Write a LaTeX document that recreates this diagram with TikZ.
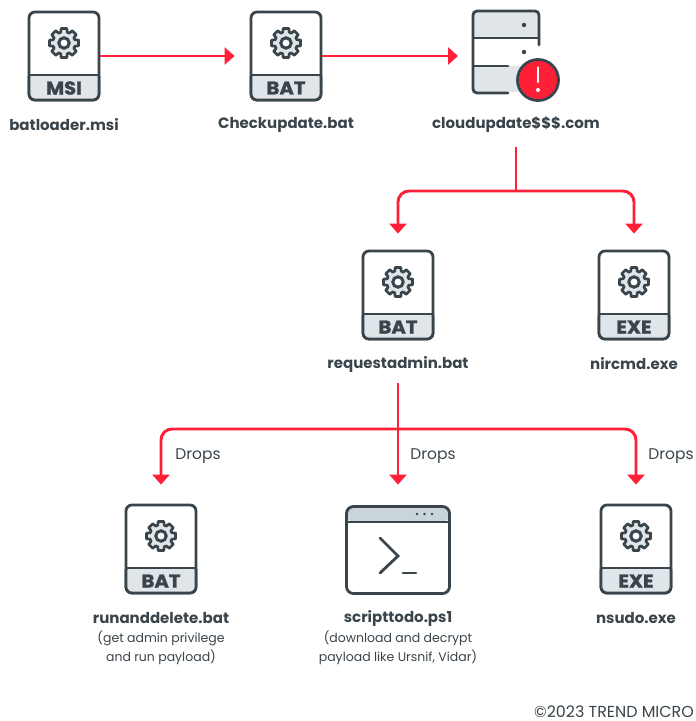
\documentclass[tikz,border=0pt]{standalone}
\usepackage{fontspec}
\setmainfont{Poppins}
\newfontfamily\bandfont[FakeBold=1.4,FakeStretch=1.06]{Poppins Bold}
\usepackage{xcolor}
\usetikzlibrary{arrows.meta}

\definecolor{inkgray}{HTML}{3A444B}
\definecolor{bandgray}{HTML}{DFE5E8}
\definecolor{headgray}{HTML}{C9D5DB}
\definecolor{flowred}{HTML}{FF2038}

\tikzset{
    flow/.style={draw=flowred, line width=2.9pt, rounded corners=11pt, -{Triangle[length=10pt,width=17pt]}},
    flowline/.style={draw=flowred, line width=2.9pt},
    outline/.style={draw=inkgray, line width=2.8pt},
    fileicon/.style={outline, rounded corners=6pt, minimum width=70pt, minimum height=88pt, inner sep=0pt},
    filename/.style={text=inkgray, font=\fontsize{15}{17}\selectfont\bfseries},
    notetext/.style={text=inkgray, font=\fontsize{12.5}{19}\selectfont, align=center},
    droptext/.style={text=inkgray, font=\fontsize{15.5}{18}\selectfont},
    bandtext/.style={text=inkgray, font=\fontsize{18.5}{18}\bandfont},
}

% gear at the given centre
\newcommand{\gearicon}[2]{
    \begin{scope}[shift={(#1,#2)}]
        \fill[outline, fill=bandgray, line width=2.7pt, line join=round] (-11:15)
            \foreach \a in {0,45,...,315} {
                -- ({\a-11}:14.8) -- ({\a+11}:14.8) -- ({\a+17}:11.2) -- ({\a+28}:11.2)
            } -- cycle;
        \fill[outline, fill=white, line width=3pt] (0,0) circle (5.2);
    \end{scope}
}

% file icon: name, centre x, centre y, band text
\newcommand{\fileicon}[4]{
    \node[fileicon] (#1) at (#2,#3) {};
    \begin{scope}[shift={(#2,#3)}]
        \fill[bandgray, rounded corners=5pt] (-34.5,19) -- (34.5,19) -- (34.5,43.5) -- (-34.5,43.5) -- cycle;
        \draw[outline] (-35,19) -- (35,19);
        \draw[outline, rounded corners=6pt] (-35,20) -- (-35,44) -- (35,44) -- (35,20);
        \node[bandtext] (#1band) at (0,32) {#4};
    \end{scope}
    \gearicon{#2}{#3-13}
}

\begin{document}
\begin{tikzpicture}[x=1pt, y=-1pt]
    \useasboundingbox (0,0) rectangle (696,721);

    % Top row
    \fileicon{msi}{64}{56}{MSI}
    \node[filename] (msilabel) at (64,125) {batloader.msi};
    \fileicon{checkup}{286}{56}{BAT}
    \node[filename] (checkuplabel) at (286,125) {Checkupdate.bat};

    % Server with alert
    \fill[bandgray] (474,12) rectangle (538,38);
    \fill[bandgray] (474,66) rectangle (525,92);
    \draw[outline, line cap=round, rounded corners=4pt] (539,45) -- (539,11) -- (473,11) -- (473,93) -- (508,93);
    \draw[outline, line cap=round] (473,38) -- (539,38);
    \draw[outline, line cap=round] (473,66) -- (508,66);
    \fill[inkgray] (524,25) circle (2.2) (524,52) circle (2.2);
    \node[outline, circle, fill=flowred, minimum size=41pt, inner sep=0pt] (cloud) at (538,80) {};
    \draw[white, line width=2.4pt, line cap=round] (538,67.5) -- (538,82);
    \fill[white] (538,90) circle (2);
    \coordinate (cloudin) at (473,56);
    \node[filename] (cloudlabel) at (516,125) {cloudupdate\$\$\$.com};

    % Second row
    \fileicon{request}{398}{295}{BAT}
    \node[filename] (requestlabel) at (398,364) {requestadmin.bat};
    \fileicon{nircmd}{634}{295}{EXE}
    \node[filename] (nircmdlabel) at (634,364) {nircmd.exe};

    % Third row
    \fileicon{rundelete}{161}{549}{BAT}
    \node[filename] (rundeletelabel) at (161,618) {runanddelete.bat};
    \node[notetext] (rundeletenote) at (161,648) {(get admin privilege\\and run payload)};

    \fill[headgray, rounded corners=6pt] (347,507) rectangle (449,522);
    \node[outline, rounded corners=7pt, minimum width=103pt, minimum height=87pt, inner sep=0pt] (script) at (398,550) {};
    \draw[outline] (346,522) -- (450,522);
    \fill[inkgray] (417,514) circle (1.4) (424.5,514) circle (1.4) (432,514) circle (1.4);
    \draw[outline, line cap=round, line join=miter] (380,538) -- (398,556) -- (380,573);
    \draw[outline, line cap=round] (403,573) -- (416,573);
    \node[filename] (scriptlabel) at (398,618) {scripttodo.ps1};
    \node[notetext] (scriptnote) at (398,648) {(download and decrypt\\payload like Ursnif, Vidar)};

    \fileicon{nsudo}{636}{549}{EXE}
    \node[filename] (nsudolabel) at (636,618) {nsudo.exe};

    % Junction points
    \coordinate (cloudout) at (516,147);
    \coordinate (cloudsplit) at (516,191);
    \coordinate (requestout) at (398,383);
    \coordinate (requestsplit) at (398,429);

    % Arrows
    \draw[flow, shorten >=15pt] (msi) -- (checkup);
    \draw[flow, shorten >=15pt] (checkup) -- (cloudin);
    \draw[flowline] (cloudout) -- (cloudsplit);
    \draw[flow, shorten >=16pt] (cloudsplit) -| (request.north);
    \draw[flow, shorten >=16pt] (cloudsplit) -| (nircmd.north);
    \draw[flow, shorten >=19pt] (requestout) -- (rundelete.north -| requestout);
    \draw[flow, shorten >=19pt] (requestsplit) -| (rundelete.north);
    \draw[flow, shorten >=19pt] (requestsplit) -| (nsudo.north);

    % Drop labels
    \node[droptext] (dropsleft) at (198,456) {Drops};
    \node[droptext] (dropsmid) at (433,456) {Drops};
    \node[droptext] (dropsright) at (671,456) {Drops};

    \node[text=inkgray, inner sep=0pt, font=\fontsize{15.9}{18}\selectfont, anchor=east] (credit) at (694,712) {©2023 TREND MICRO};
\end{tikzpicture}
\end{document}
